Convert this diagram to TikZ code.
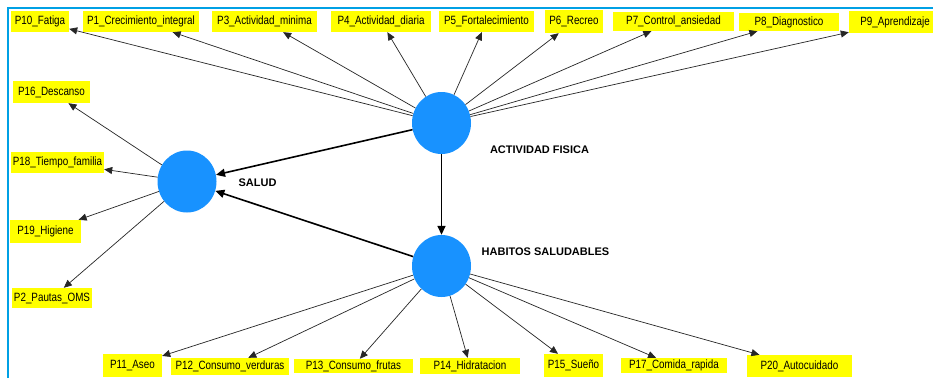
\documentclass[tikz,border=0pt]{standalone}
\usepackage{fontspec}
\setmainfont{Liberation Sans}
\newfontfamily\narrowfont[FakeStretch=0.82]{Liberation Sans}
\usetikzlibrary{arrows.meta,shapes.geometric}
\definecolor{nodeblue}{RGB}{24,146,255}
\definecolor{framecol}{RGB}{0,160,228}
\definecolor{boxyellow}{RGB}{255,255,0}
\tikzset{
  ybox/.style={fill=boxyellow, inner sep=0pt, font=\narrowfont\fontsize{12}{14}\selectfont},
  lv/.style={shape=ellipse, fill=nodeblue, draw=none, minimum width=59pt, minimum height=62pt, inner sep=0pt},
  lvlabel/.style={font=\bfseries\fontsize{11}{13}\selectfont},
  thin arr/.style={draw=black!85, line width=0.7pt, -{Triangle[length=8pt,width=7pt]}},
  thick arr/.style={draw=black, line width=1.6pt, -{Triangle[length=9pt,width=8pt]}}
}
\begin{document}
\begin{tikzpicture}[x=1pt,y=-1pt]
\useasboundingbox (0,0) rectangle (933,378);
\fill[white] (0,0) rectangle (933,378);
\draw[framecol, line width=2pt] (8,378) -- (8,8) -- (933,8);

% latent variables
\node[lv] (af) at (441.5,123) {};
\node[lv] (hs) at (441.5,266) {};
\node[lv] (sa) at (187,181.5) {};
\node[lvlabel] (afl) at (539.5,150) {ACTIVIDAD FISICA};
\node[lvlabel] (hsl) at (545.5,252) {HABITOS SALUDABLES};
\node[lvlabel] (sal) at (257.5,183) {SALUD};

% top row indicators
\node[ybox, minimum width=58pt, minimum height=21pt] (p10) at (40,21.5) {P10\_Fatiga};
\node[ybox, minimum width=116pt, minimum height=21pt] (p1) at (141,21.5) {P1\_Crecimiento\_integral};
\node[ybox, minimum width=105pt, minimum height=21pt] (p3) at (264.5,21.5) {P3\_Actividad\_minima};
\node[ybox, minimum width=100pt, minimum height=21pt] (p4) at (381,21.5) {P4\_Actividad\_diaria};
\node[ybox, minimum width=95pt, minimum height=21pt] (p5) at (486.5,21.5) {P5\_Fortalecimiento};
\node[ybox, minimum width=58pt, minimum height=23pt] (p6) at (574,21.5) {P6\_Recreo};
\node[ybox, minimum width=121pt, minimum height=19pt] (p7) at (673.5,21.5) {P7\_Control\_ansiedad};
\node[ybox, minimum width=100pt, minimum height=18pt] (p8) at (789,22) {P8\_Diagnostico};
\node[ybox, minimum width=92pt, minimum height=22pt] (p9) at (895,22) {P9\_Aprendizaje};

% left indicators
\node[ybox, minimum width=77pt, minimum height=22pt] (p16) at (51.5,92) {P16\_Descanso};
\node[ybox, minimum width=93pt, minimum height=21pt] (p18) at (57.5,162.5) {P18\_Tiempo\_familia};
\node[ybox, minimum width=71pt, minimum height=23pt] (p19) at (45.5,231.5) {P19\_Higiene};
\node[ybox, minimum width=80pt, minimum height=20pt] (p2) at (52,298) {P2\_Pautas\_OMS};

% bottom indicators
\node[ybox, minimum width=59pt, minimum height=23pt] (p11) at (132.5,365.5) {P11\_Aseo};
\node[ybox, minimum width=118pt, minimum height=17pt] (p12) at (230,366.5) {P12\_Consumo\_verduras};
\node[ybox, minimum width=119pt, minimum height=14pt] (p13) at (353.5,366) {P13\_Consumo\_frutas};
\node[ybox, minimum width=100pt, minimum height=16pt] (p14) at (470,366) {P14\_Hidratacion};
\node[ybox, minimum width=59pt, minimum height=23pt] (p15) at (573.5,365.5) {P15\_Sueño};
\node[ybox, minimum width=106pt, minimum height=15pt] (p17) at (674,365.5) {P17\_Comida\_rapida};
\node[ybox, minimum width=105pt, minimum height=22pt] (p20) at (799.5,366) {P20\_Autocuidado};

% structural paths
\draw[thick arr] (af) -- (sa);
\draw[thick arr] (hs) -- (sa);
\draw[thick arr] (af) -- (hs);

% outer loadings
\foreach \p in {p10,p1,p3,p4,p5,p6,p7,p8,p9}
  \draw[thin arr] (af) -- (\p);
\foreach \p in {p16,p18,p19,p2}
  \draw[thin arr] (sa) -- (\p);
\foreach \p in {p11,p12,p13,p14,p15,p17,p20}
  \draw[thin arr] (hs) -- (\p);
\end{tikzpicture}
\end{document}
